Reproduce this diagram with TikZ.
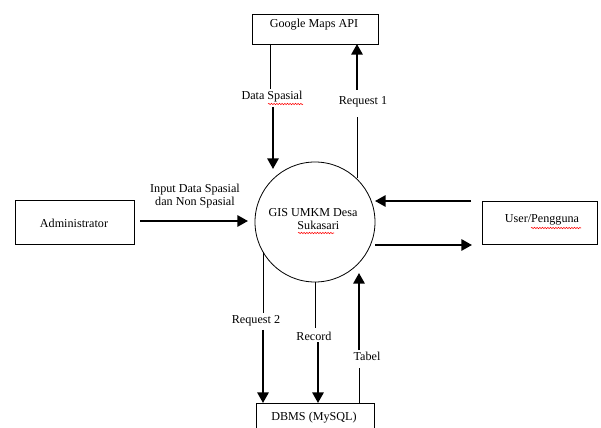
\documentclass[tikz,border=0pt]{standalone}
\usepackage{fontspec}
\setmainfont{Liberation Serif}
\usetikzlibrary{arrows.meta,decorations.pathmorphing}
\begin{document}
\begin{tikzpicture}[x=0.75pt,y=-0.75pt,
  font=\fontsize{9.1}{10.5}\selectfont,
  entity/.style={draw,line width=0.6pt,inner sep=0pt},
  lbl/.style={inner sep=0pt,align=center},
  thinline/.style={line width=0.6pt},
  flow/.style={line width=1.6pt,-{Triangle[width=8.5pt,length=8pt]}},
  spell/.style={red,line width=0.4pt,decorate,decoration={snake,amplitude=0.5pt,segment length=2pt}}]
\useasboundingbox (0,0) rectangle (601,428);

% external entities
\node[entity,minimum width=126*0.75pt,minimum height=30*0.75pt] (gmaps) at (315,29) {};
\node[lbl] (gmapsT) at (314,25) {Google Maps API};
\node[entity,minimum width=119*0.75pt,minimum height=44*0.75pt] (admin) at (74.5,222) {};
\node[lbl] (adminT) at (74,223) {Administrator};
\node[entity,minimum width=115*0.75pt,minimum height=43*0.75pt] (user) at (539.5,222.5) {};
\node[lbl] (userT) at (542,220) {User/Pengguna};
\node[entity,minimum width=118*0.75pt,minimum height=30*0.75pt] (dbms) at (315,418) {};
\node[lbl] (dbmsT) at (314,418) {DBMS (MySQL)};

% process
\node[circle,draw,line width=0.6pt,minimum size=120*0.75pt,inner sep=0pt] (gis) at (315,222) {};
\node[lbl] (gisT) at (313,219) {GIS UMKM Desa\\[-1pt]\hspace*{8pt}Sukasari};

% flow labels
\node[lbl] (dsp) at (272,97) {Data Spasial};
\node[lbl] (rq1) at (363,102) {Request 1};
\node[lbl] (inp) at (195,196) {Input Data Spasial\\[-1pt]dan Non Spasial};
\node[lbl] (rq2) at (256,321) {Request 2};
\node[lbl] (rec) at (314,336) {Record};
\node[lbl] (tab) at (367,356) {Tabel};

% Google Maps API <-> GIS
\coordinate (a1) at (270,44);
\coordinate (a2) at (270,89);
\coordinate (a3) at (273,107);
\coordinate (a4) at (273,169);
\draw[thinline] (a1) -- (a2);
\draw[flow] (a3) -- (a4);
\coordinate (b1) at (357,178);
\coordinate (b2) at (357,117);
\coordinate (b3) at (357,90);
\coordinate (b4) at (357,44);
\draw[thinline] (b1) -- (b2);
\draw[flow] (b3) -- (b4);

% Administrator -> GIS
\coordinate (c1) at (140,221);
\coordinate (c2) at (248,221);
\draw[flow] (c1) -- (c2);

% User <-> GIS
\coordinate (d1) at (471,201);
\coordinate (d2) at (375,201);
\draw[flow] (d1) -- (d2);
\coordinate (e1) at (375,245);
\coordinate (e2) at (472,245);
\draw[flow] (e1) -- (e2);

% GIS <-> DBMS
\coordinate (f1) at (263,252);
\coordinate (f2) at (263,313);
\coordinate (f3) at (263,330);
\coordinate (f4) at (263,403);
\draw[thinline] (f1) -- (f2);
\draw[flow] (f3) -- (f4);
\coordinate (g1) at (315,282);
\coordinate (g2) at (315,328);
\coordinate (g3) at (318,342);
\coordinate (g4) at (318,403);
\draw[thinline] (g1) -- (g2);
\draw[flow] (g3) -- (g4);
\coordinate (h1) at (359,403);
\coordinate (h2) at (359,368);
\coordinate (h3) at (359,350);
\coordinate (h4) at (359,273);
\draw[thinline] (h1) -- (h2);
\draw[flow] (h3) -- (h4);

% spelling marks under words
\coordinate (s1a) at (268,104); \coordinate (s1b) at (303,104);
\coordinate (s2a) at (298,233); \coordinate (s2b) at (334,233);
\coordinate (s3a) at (531,228); \coordinate (s3b) at (581,228);
\draw[spell] (s1a) -- (s1b);
\draw[spell] (s2a) -- (s2b);
\draw[spell] (s3a) -- (s3b);
\end{tikzpicture}
\end{document}
